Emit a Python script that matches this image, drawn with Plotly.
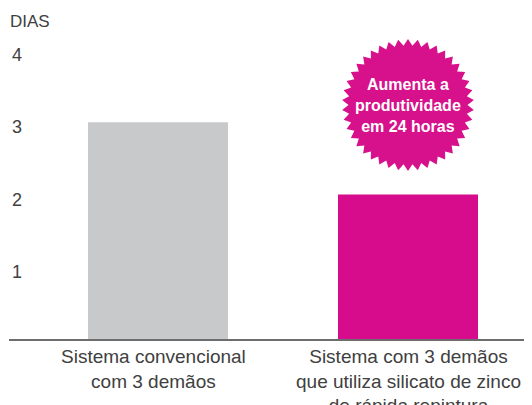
import math
import plotly.graph_objects as go

categories = ["Sistema convencional<br>com 3 demãos",
              "Sistema com 3 demãos<br>que utiliza silicato de zinco<br>de rápida repintura"]
dias = [3, 2]
bar_colors = ["#C8C9CB", "#D60C8C"]
y_ticks = [1, 2, 3, 4]
y_title = "DIAS"
badge_text = "<b>Aumenta a<br>produtividade<br>em 24 horas</b>"

x_pos = list(range(len(categories)))

fig = go.Figure()
fig.add_trace(go.Bar(
    x=x_pos, y=dias, width=0.56,
    marker=dict(color=bar_colors, line=dict(width=0)),
    hoverinfo="skip",
))

# starburst badge drawn in pixel units around the second bar
n_pts, r_out, r_in = 42, 66, 59.5
pts = []
for k in range(2 * n_pts):
    r = r_out if k % 2 == 0 else r_in
    a = math.pi / 2 + k * math.pi / n_pts
    pts.append((r * math.cos(a), r * math.sin(a)))
path = "M " + " L ".join(f"{px:.2f},{py:.2f}" for px, py in pts) + " Z"
badge_y = 3.24
fig.add_shape(type="path", path=path, xsizemode="pixel", ysizemode="pixel",
              xanchor=1, yanchor=badge_y, xref="x", yref="y",
              fillcolor="#D6118B", line=dict(width=0), layer="above")
fig.add_annotation(x=1, y=badge_y, xref="x", yref="y", text=badge_text,
                   showarrow=False, font=dict(family="Liberation Sans, Arial", size=16, color="white"),
                   align="center", xanchor="center", yanchor="middle")

# category labels
label_offsets = [-0.02, 0.0]
for i, (c, off) in enumerate(zip(categories, label_offsets)):
    fig.add_annotation(x=i + off, y=0, xref="x", yref="y", text=c, showarrow=False,
                       xanchor="center", yanchor="top", yshift=-5, align="center",
                       font=dict(family="Liberation Sans, Arial", size=19, color="#404040"))

# y tick labels
for v in y_ticks:
    fig.add_annotation(x=0.002, y=v, xref="paper", yref="y", text=str(v), showarrow=False,
                       xanchor="left", yanchor="middle", yshift=-5,
                       font=dict(family="Liberation Sans, Arial", size=18, color="#404040"))

fig.add_annotation(x=-0.002, y=0.982, xref="paper", yref="paper", text=y_title, showarrow=False,
                   xanchor="left", yanchor="middle", yshift=-2,
                   font=dict(family="Liberation Sans, Arial", size=17, color="#404040"))

fig.update_layout(
    width=532, height=405,
    margin=dict(l=1, r=8, t=6, b=74),
    paper_bgcolor="white", plot_bgcolor="white",
    showlegend=False,
    xaxis=dict(range=[-0.596, 1.496], showticklabels=False, showgrid=False, zeroline=False,
               showline=True, linecolor="#6D6D6D", linewidth=2, ticks=""),
    yaxis=dict(range=[0, 4.5], showticklabels=False, showgrid=False, zeroline=False,
               showline=False, ticks=""),
)

fig.write_html("out.html")
